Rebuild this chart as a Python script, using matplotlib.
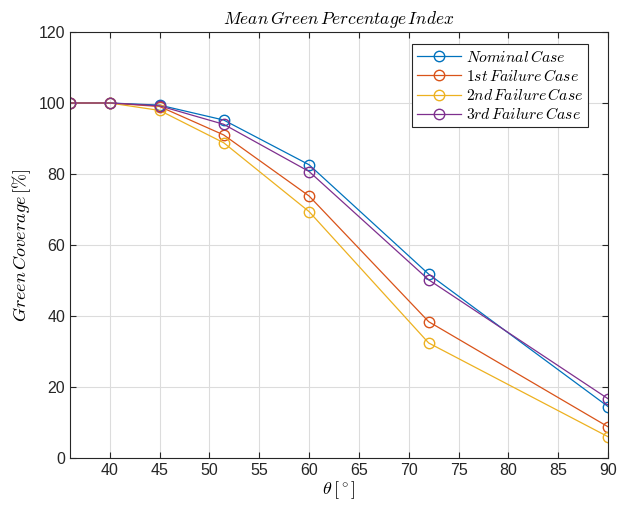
import matplotlib
matplotlib.use("Agg")
import matplotlib.pyplot as plt

plt.rcParams['font.family'] = ['Liberation Sans', 'DejaVu Sans']
plt.rcParams['mathtext.fontset'] = 'cm'

theta = [36, 40, 45, 51.43, 60, 72, 90]
nominal = [100, 100, 99.4, 95.2, 82.6, 51.8, 14.5]
fail1 = [100, 100, 99.0, 91.0, 73.8, 38.4, 8.8]
fail2 = [100, 100, 97.9, 88.8, 69.4, 32.4, 6.0]
fail3 = [100, 100, 99.2, 94.0, 80.7, 50.2, 16.7]
labels = [r'$Nominal\,Case$', r'$1st\,Failure\,Case$', r'$2nd\,Failure\,Case$', r'$3rd\,Failure\,Case$']
colors = ['#0072BD', '#D95319', '#EDB120', '#7E2F8E']
xticks = [40, 45, 50, 55, 60, 65, 70, 75, 80, 85, 90]
yticks = [0, 20, 40, 60, 80, 100, 120]

fig = plt.figure(figsize=(6.17, 5.08), dpi=100)
ax = fig.add_axes([70/617, 50/508, 538/617, 426/508])

for ys, c, lab in zip([nominal, fail1, fail2, fail3], colors, labels):
    ax.plot(theta, ys, color=c, lw=0.9, marker='o', ms=7.5, mfc='none', mec=c, mew=1.0, label=lab)

ax.set_xlim(36, 90)
ax.set_ylim(0, 120)
ax.set_xticks(xticks)
ax.set_yticks(yticks)
ax.grid(True, color='#dcdcdc', lw=0.8)
ax.set_axisbelow(True)
ax.tick_params(direction='in', top=True, right=True, labelsize=11.5, colors='#262626', length=4)
for s in ax.spines.values():
    s.set_color('#262626')
    s.set_linewidth(0.8)

ax.set_title(r'$Mean\,Green\,Percentage\,Index$', fontsize=12.5, pad=6)
ax.set_xlabel(r'$\theta\,[^\circ]$', fontsize=13, labelpad=1)
ax.set_ylabel(r'$Green\,Coverage\,[\%]$', fontsize=13, labelpad=4)

leg = ax.legend(loc='upper right', bbox_to_anchor=(0.977, 0.99), fontsize=11.3, frameon=True,
                fancybox=False, edgecolor='#262626', framealpha=1, handlelength=2.8,
                borderpad=0.3, labelspacing=0.2, handletextpad=0.3)
leg.get_frame().set_linewidth(0.8)

fig.savefig('out.png', dpi=100)
